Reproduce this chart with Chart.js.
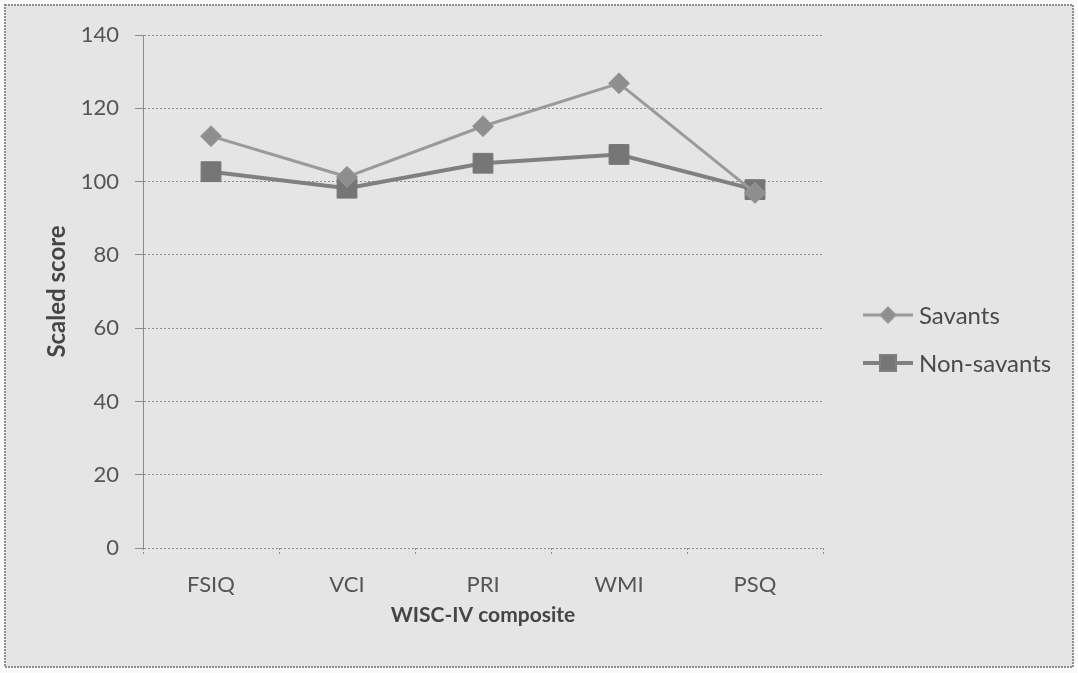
<!DOCTYPE html>
<html>
<head>
<meta charset="utf-8">
<script src="https://cdn.jsdelivr.net/npm/chart.js@4.4.0/dist/chart.umd.min.js"></script>
<style>
  html, body { margin: 0; padding: 0; background: #fafafa; }
  #wrap { position: relative; width: 1078px; height: 673px; }
</style>
</head>
<body>
<div id="wrap"><canvas id="wiscChart" width="1078" height="673"></canvas></div>
<script>
// WISC-IV composite scores, savants vs non-savants
const composites = ['FSIQ', 'VCI', 'PRI', 'WMI', 'PSQ'];
const savants = [112.4, 101.3, 115.1, 126.8, 96.9];
const nonSavants = [102.7, 98.2, 105.0, 107.4, 97.8];
const yTicks = [0, 20, 40, 60, 80, 100, 120, 140];

const FONT = 'Lato, "Open Sans", sans-serif';
const gridDash = [2, 2];
const gridColor = '#8c8c8c';

// grey panel with a dotted frame behind the chart
const framePlugin = {
  id: 'frame',
  beforeDraw(chart) {
    const ctx = chart.ctx;
    ctx.save();
    ctx.fillStyle = '#e5e5e5';
    ctx.fillRect(5, 5, 1068, 662);
    ctx.strokeStyle = '#8f8f8f';
    ctx.lineWidth = 2;
    ctx.setLineDash([2, 1]);
    ctx.strokeRect(5, 5, 1068, 662);
    ctx.restore();
  }
};

// legend on the right: short line with the marker in the middle
const sideLegend = {
  id: 'sideLegend',
  afterDraw(chart) {
    const ctx = chart.ctx;
    const x0 = 863, x1 = 913;
    const rows = [315, 363];
    chart.data.datasets.forEach((ds, i) => {
      const y = rows[i];
      ctx.save();
      ctx.strokeStyle = ds.borderColor;
      ctx.lineWidth = ds.borderWidth;
      ctx.beginPath();
      ctx.moveTo(x0, y);
      ctx.lineTo(x1, y);
      ctx.stroke();
      Chart.helpers.drawPoint(ctx, {
        pointStyle: ds.pointStyle,
        radius: ds.legendRadius,
        borderWidth: 1
      }, (x0 + x1) / 2, y);
      ctx.fillStyle = ds.pointBackgroundColor;
      ctx.fill();
      ctx.fillStyle = '#4a4a4a';
      ctx.font = '24px ' + FONT;
      ctx.textBaseline = 'middle';
      ctx.textAlign = 'left';
      ctx.fillText(ds.label, x1 + 6, y + 1);
      ctx.restore();
    });
  }
};

const ctx = document.getElementById('wiscChart').getContext('2d');
new Chart(ctx, {
  type: 'line',
  data: {
    labels: composites,
    datasets: [
      {
        label: 'Savants',
        data: savants,
        borderColor: '#9a9a9a',
        borderWidth: 3,
        pointStyle: 'rectRot',
        pointRadius: 10.5,
        legendRadius: 7,
        pointBackgroundColor: '#8e8e8e',
        pointBorderColor: '#9a9a9a',
        pointBorderWidth: 1,
        tension: 0
      },
      {
        label: 'Non-savants',
        data: nonSavants,
        borderColor: '#808080',
        borderWidth: 4,
        pointStyle: 'rect',
        pointRadius: 14,
        legendRadius: 10,
        pointBackgroundColor: '#767676',
        pointBorderColor: '#767676',
        pointBorderWidth: 1,
        tension: 0
      }
    ]
  },
  options: {
    responsive: false,
    animation: false,
    layout: { padding: { left: 0, top: 35, right: 255, bottom: 0 } },
    scales: {
      x: {
        offset: true,
        grid: {
          display: true,
          drawOnChartArea: false,
          offset: true,
          tickLength: 6,
          color: gridColor,
          tickBorderDash: gridDash
        },
        border: { display: false },
        ticks: {
          color: '#555555',
          padding: 18,
          font: { family: FONT, size: 22 }
        },
        title: {
          display: true,
          text: 'WISC-IV composite',
          color: '#454545',
          padding: { top: 0, bottom: 45 },
          font: { family: FONT, size: 21, weight: 'bold' }
        },
        afterFit(scale) { scale.height = 673 - 548; }
      },
      y: {
        min: 0,
        max: 140,
        afterBuildTicks(scale) { scale.ticks = yTicks.map(v => ({ value: v })); },
        grid: {
          color: gridColor,
          tickLength: 8,
          lineWidth: 1
        },
        border: { display: true, color: gridColor, dash: gridDash },
        ticks: {
          color: '#555555',
          padding: 16,
          font: { family: FONT, size: 22 }
        },
        title: {
          display: true,
          text: 'Scaled score',
          color: '#454545',
          padding: { top: 43, bottom: 0 },
          font: { family: FONT, size: 24, weight: 'bold' }
        },
        afterFit(scale) { scale.width = 143; }
      }
    },
    plugins: {
      legend: { display: false },
      tooltip: { enabled: false }
    }
  },
  plugins: [framePlugin, sideLegend]
});
</script>
</body>
</html>
